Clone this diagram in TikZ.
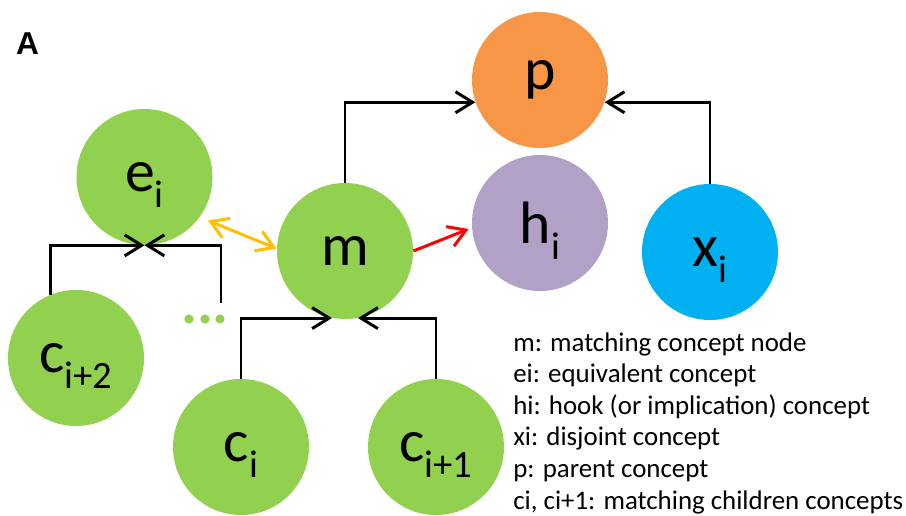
\documentclass[tikz,border=0pt]{standalone}
\usepackage{fontspec}
\setmainfont{Carlito}
\newfontfamily\panelfont{Liberation Sans}
\usetikzlibrary{arrows.meta,positioning}
\usepackage{xcolor}
\definecolor{GreenC}{HTML}{92D050}
\definecolor{OrangeC}{HTML}{F79646}
\definecolor{PurpleC}{HTML}{B2A1C7}
\definecolor{BlueC}{HTML}{00B0F0}
\definecolor{EquivC}{HTML}{FFC000}
\definecolor{HookC}{HTML}{FF0000}

\newcommand{\csub}[1]{\raisebox{-9pt}[0pt][0pt]{\fontsize{22}{22}\selectfont #1}}

\begin{document}
\begin{tikzpicture}[
  >={Straight Barb[length=0.34cm,width=0.42cm]},
  concept/.style={circle, fill=GreenC, minimum size=2.72cm, inner sep=0pt, text=black, font=\fontsize{34}{34}\selectfont},
  parent/.style={concept, fill=OrangeC},
  hookc/.style={concept, fill=PurpleC},
  disj/.style={concept, fill=BlueC},
  link/.style={draw=black, line width=1.7pt, ->},
  equiv/.style={draw=EquivC, line width=1.7pt, <->, shorten <=5pt},
  hooklink/.style={draw=HookC, line width=1.7pt, ->, shorten >=2pt},
  legend/.style={align=left, inner sep=0pt, font=\fontsize{15.3}{18}\selectfont}
]
\useasboundingbox (0,0) rectangle (18.12,10.3);

% Panel label
\node[font=\panelfont\bfseries\fontsize{18}{18}\selectfont] (A) at (0.55,9.42) {A};

% Concepts
\node[concept] (m) at (6.90,5.28) {m};
\node[concept] (e) at (2.89,6.76) {e\csub{i}};
\node[parent] (p) at (10.80,8.70) {p};
\node[hookc] (h) at (10.80,5.84) {h\csub{i}};
\node[disj] (x) at (14.20,5.26) {x\csub{i}};
\node[concept] (c2) at (1.52,3.14) {c\csub{i+2}};
\node[concept] (ci) at (4.82,1.36) {c\csub{i}};
\node[concept] (ci1) at (8.72,1.36) {c\csub{i+1}};

% More children (dots)
\node[text=GreenC, inner sep=0pt, font=\bfseries\fontsize{34}{34}\selectfont] (dots) at (4.10,3.90) {...};
\coordinate (dd) at (4.42,4.24);

% Parent links
\draw[link] (m.north) |- (p.199);
\draw[link] (x.north) |- (p.-19);

% Children of m
\draw[link] (ci.north) |- (m.-101);
\draw[link] (ci1.north) |- (m.-79);

% Children of e
\draw[link] (c2.112) |- (e.south);
\draw[link] (dd) |- (e.south);

% Equivalent and hook
\draw[equiv] (e.-36) -- (m.178);
\draw[hooklink] (m.east) -- (h.184);

% Legend
\node[legend, anchor=north west] (L) at (10.26,3.66) {m: matching concept node\\
ei: equivalent concept\\
hi: hook (or implication) concept\\
xi: disjoint concept\\
p: parent concept\\
ci, ci+1: matching children concepts};

\end{tikzpicture}
\end{document}
